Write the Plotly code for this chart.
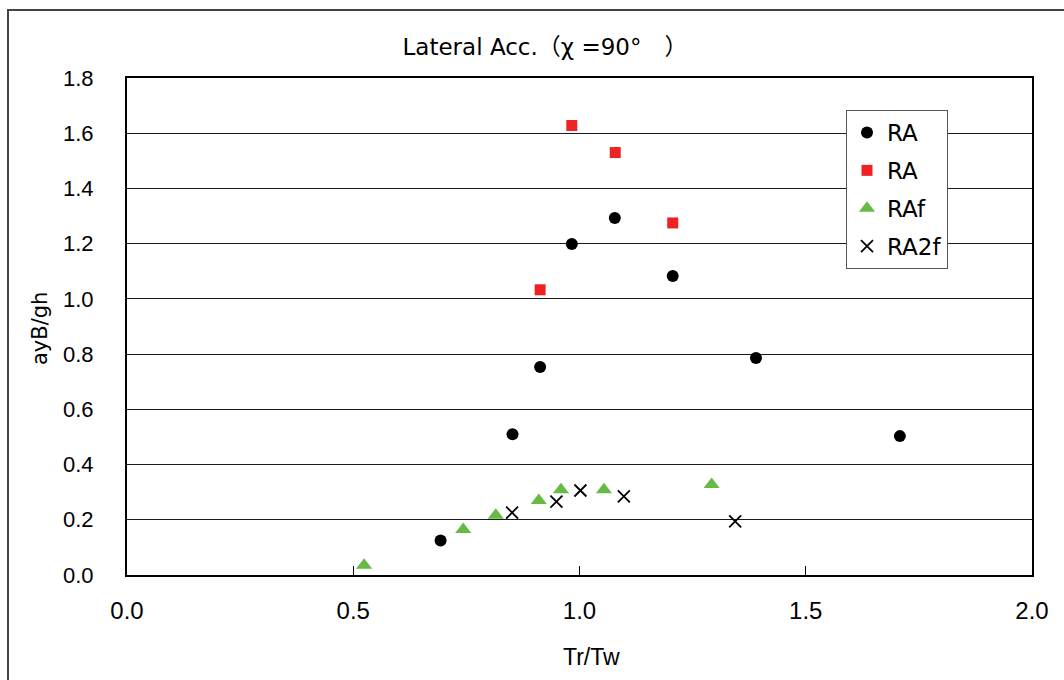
import plotly.graph_objects as go

# Tr/Tw vs. non-dimensional lateral acceleration ayB/gh
ra_x = [0.693, 0.852, 0.913, 0.983, 1.078, 1.206, 1.390, 1.708]
ra_y = [0.125, 0.510, 0.753, 1.199, 1.293, 1.083, 0.786, 0.503]

ra_red_x = [0.913, 0.983, 1.079, 1.206]
ra_red_y = [1.033, 1.628, 1.530, 1.275]

raf_x = [0.524, 0.743, 0.815, 0.910, 0.959, 1.054, 1.292]
raf_y = [0.035, 0.165, 0.216, 0.270, 0.309, 0.309, 0.328]

ra2f_x = [0.851, 0.949, 1.002, 1.098, 1.344]
ra2f_y = [0.226, 0.266, 0.306, 0.285, 0.194]

x_ticks = [0.0, 0.5, 1.0, 1.5, 2.0]
x_tick_text = ["0.0", "0.5", "1.0", "1.5", "2.0"]
y_ticks = [0.0, 0.2, 0.4, 0.6, 0.8, 1.0, 1.2, 1.4, 1.6, 1.8]
y_tick_text = ["0.0", "0.2", "0.4", "0.6", "0.8", "1.0", "1.2", "1.4", "1.6", "1.8"]

SANS = "Arial, Liberation Sans, Noto Sans CJK JP, sans-serif"
WIDE = "DejaVu Sans, Noto Sans CJK JP, sans-serif"

fig = go.Figure()
fig.add_trace(go.Scatter(x=ra_x, y=ra_y, mode="markers", name="RA", legendgroup="a",
                         marker=dict(symbol="circle", size=12, color="#000000")))
fig.add_trace(go.Scatter(x=ra_red_x, y=ra_red_y, mode="markers", name="RA", legendgroup="b",
                         marker=dict(symbol="square", size=11, color="#EE2222")))
fig.add_trace(go.Scatter(x=raf_x, y=raf_y, mode="markers", name="RAf", legendgroup="c",
                         marker=dict(symbol="triangle-up", size=14, color="#66BB44")))
fig.add_trace(go.Scatter(x=ra2f_x, y=ra2f_y, mode="markers", name="RA2f", legendgroup="d",
                         marker=dict(symbol="x-thin", size=12, color="#000000",
                                     line=dict(width=1.8, color="#000000"))))

fig.update_layout(
    width=1064, height=680,
    margin=dict(l=127, r=32, t=78, b=105),
    paper_bgcolor="white", plot_bgcolor="white",
    showlegend=True,
    title=dict(text="Lateral Acc.（χ =90°　）", x=545 / 1064, xanchor="center",
               y=1 - 47 / 680, yanchor="middle",
               font=dict(family=WIDE, size=23, color="#000000")),
    legend=dict(x=(846 - 127) / 905, y=(575 - 110) / 497, xanchor="left", yanchor="top",
                bgcolor="white", bordercolor="#555555", borderwidth=1,
                font=dict(family=WIDE, size=23, color="#000000"),
                traceorder="grouped", tracegroupgap=5, itemwidth=30),
    xaxis=dict(range=[0, 2], tickmode="array", tickvals=x_ticks, ticktext=x_tick_text,
               ticks="inside", ticklen=9, tickcolor="#000000", tickwidth=1,
               showgrid=False, zeroline=False,
               showline=True, linecolor="#000000", linewidth=2, mirror=True,
               ticklabelstandoff=13,
               tickfont=dict(family=SANS, size=24, color="#000000")),
    yaxis=dict(range=[0, 1.8], tickmode="array", tickvals=y_ticks, ticktext=y_tick_text,
               ticks="", showgrid=True, gridcolor="#1a1a1a", gridwidth=1.4,
               zeroline=False,
               showline=True, linecolor="#000000", linewidth=2, mirror=True,
               ticklabelstandoff=27,
               tickfont=dict(family=SANS, size=22, color="#000000")),
    annotations=[
        dict(text="Tr/Tw", xref="paper", yref="paper",
             x=(591 - 127) / 905, y=(575 - 657) / 497, xanchor="center", yanchor="middle",
             showarrow=False, font=dict(family=SANS, size=23, color="#000000")),
        dict(text="ayB/gh", xref="paper", yref="paper", textangle=-90,
             x=(40 - 127) / 905, y=(575 - 329) / 497, xanchor="center", yanchor="middle",
             showarrow=False, font=dict(family=WIDE, size=21, color="#000000")),
    ],
)

# outer chart frame (extends past the right and bottom edges of the page)
fig.add_shape(type="rect", xref="paper", yref="paper",
              x0=(8 - 127) / 905, x1=(1075 - 127) / 905,
              y0=(575 - 700) / 497, y1=(575 - 10) / 497,
              line=dict(color="#444444", width=2), fillcolor="rgba(0,0,0,0)", layer="below")

fig.write_html("out.html")
